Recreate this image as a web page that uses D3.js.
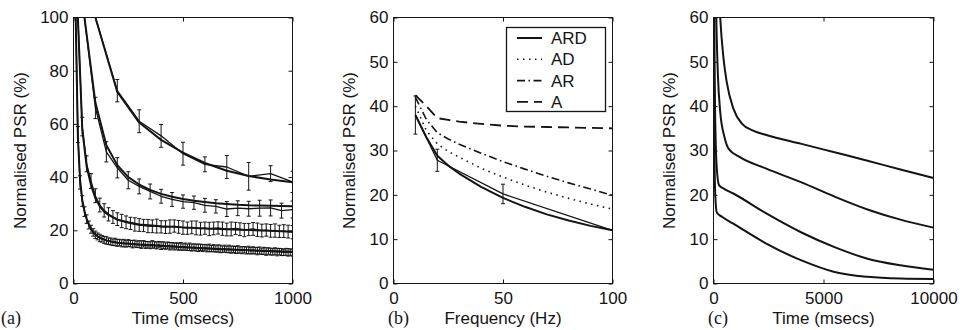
<!DOCTYPE html>
<html>
<head>
<meta charset="utf-8">
<script src="https://cdn.jsdelivr.net/npm/d3@7"></script>
<style>
  body { margin: 0; background: #fff; }
</style>
</head>
<body>
<script>
// ---------- panel (a): normalised PSR vs time, 4 stimulus trains ----------
// stimulus times (regular trains at 10, 20, 50, 100 Hz)
const tA10 = d3.range(100, 1001, 100);
const tA20 = d3.range(50, 1001, 50);
const tA50 = d3.range(20, 1001, 20);
const tA100 = d3.range(10, 1001, 10);

const data10 = [100, 72.5, 61, 55.5, 48.8, 44.8, 43.8, 40.3, 41.3, 38.2];
const err10 = [0, 4.2, 4.3, 4.3, 4.3, 2.8, 4.3, 5.2, 3.0, 4.0];
const model10 = [100, 72, 60.5, 54, 49.2, 45.3, 42.4, 40.4, 39.1, 38.1];

const data20 = [100, 66, 49.5, 43.5, 38.8, 36.5, 34.6, 32.8, 31.6, 30.8,
                30.4, 29.4, 29.0, 28.0, 28.3, 28.1, 28.3, 28.4, 27.4, 27.8];
const err20 = [0, 4, 3.8, 3.8, 3.2, 2.8, 2.8, 2.6, 2.6, 2.5,
               2.5, 2.6, 2.5, 2.8, 2.8, 2.8, 3.0, 3.0, 2.8, 3.2];
const model20 = [100, 68, 52, 44.5, 40, 37.2, 35.2, 33.7, 32.6, 31.8,
                 31.1, 30.6, 30.2, 29.9, 29.6, 29.4, 29.3, 29.2, 29.1, 29.0];

const data50 = [100, 59, 45, 38.5, 33, 29.5, 27.5, 26, 25, 24.2,
                23.5, 23, 22.6, 22.2, 22, 21.8, 21.6, 21.5, 21.6, 21.3,
                21.2, 21.4, 21.6, 21.3, 21, 20.8, 21.1, 20.9, 20.6, 20.8,
                20.5, 20.7, 20.9, 20.6, 20.3, 20.5, 20.7, 20.4, 20.1, 20.3,
                20.5, 20.2, 19.9, 20.1, 19.8, 19.9, 19.6, 19.7, 19.5, 19.3];
const err50 = [0, 3.5, 3, 2.8, 2.6, 2.6, 2.5, 2.5, 2.4, 2.4,
               2.5, 2.4, 2.3, 2.5, 2.4, 2.3, 2.5, 2.4, 2.6, 2.3,
               2.4, 2.5, 2.3, 2.4, 2.5, 2.3, 2.4, 2.6, 2.4, 2.3,
               2.5, 2.4, 2.3, 2.5, 2.4, 2.6, 2.3, 2.4, 2.5, 2.3,
               2.4, 2.5, 2.4, 2.3, 2.4, 2.5, 2.3, 2.4, 2.4, 2.5];
const model50T = [20, 40, 60, 80, 100, 120, 140, 160, 200, 250, 300, 400, 500, 600, 700, 800, 900, 1000];
const model50 = [100, 58, 44, 37, 32, 29, 27, 25.8, 24, 23, 22.2, 21.5, 21.1, 20.7, 20.4, 20.1, 19.8, 19.5];

const data100 = [100, 56, 38, 31, 27, 24.2, 22, 20.4, 19.2, 18.3,
                 17.7, 17.1, 16.8, 16.4, 16.2, 15.9, 15.8, 15.5, 15.6, 15.3,
                 15.4, 15.1, 15.2, 14.9, 15.2, 15.0, 14.8, 15.0, 14.7, 14.8,
                 14.6, 14.9, 14.5, 14.6, 14.4, 14.7, 14.5, 14.3, 14.6, 14.2,
                 14.4, 14.1, 14.3, 14.0, 14.2, 13.9, 14.1, 13.8, 14.0, 13.7,
                 13.9, 13.6, 13.8, 13.5, 13.7, 13.5, 13.4, 13.6, 13.3, 13.5,
                 13.2, 13.4, 13.1, 13.3, 13.0, 13.2, 13.0, 12.9, 13.1, 12.8,
                 13.0, 12.7, 12.9, 12.6, 12.8, 12.6, 12.5, 12.7, 12.4, 12.6,
                 12.3, 12.5, 12.3, 12.2, 12.4, 12.1, 12.3, 12.0, 12.2, 12.0,
                 11.9, 12.1, 11.8, 12.0, 11.8, 11.7, 11.9, 11.7, 11.8, 11.6];
const err100 = [0, 3, 2.5, 2, 1.8, 1.6, 1.5, 1.5, 1.4, 1.4,
                1.3, 1.4, 1.2, 1.3, 1.4, 1.2, 1.3, 1.2, 1.4, 1.3,
                1.2, 1.3, 1.4, 1.2, 1.3, 1.2, 1.4, 1.3, 1.2, 1.3,
                1.4, 1.2, 1.3, 1.2, 1.3, 1.4, 1.2, 1.3, 1.2, 1.4,
                1.3, 1.2, 1.3, 1.4, 1.2, 1.3, 1.2, 1.3, 1.4, 1.2,
                1.3, 1.2, 1.4, 1.3, 1.2, 1.3, 1.4, 1.2, 1.3, 1.2,
                1.3, 1.4, 1.2, 1.3, 1.2, 1.3, 1.4, 1.2, 1.3, 1.2,
                1.4, 1.3, 1.2, 1.3, 1.4, 1.2, 1.3, 1.2, 1.3, 1.4,
                1.2, 1.3, 1.2, 1.4, 1.3, 1.2, 1.3, 1.4, 1.2, 1.3,
                1.2, 1.3, 1.4, 1.2, 1.3, 1.2, 1.3, 1.4, 1.2, 1.3];
const model100T = [10, 20, 30, 40, 50, 60, 70, 80, 90, 100, 120, 150, 200, 300, 400, 500, 600, 700, 800, 900, 1000];
const model100 = [100, 55, 39, 31.5, 27.2, 24.3, 22.2, 20.6, 19.3, 18.4, 17.2, 16.2, 15.3, 14.6, 14.1, 13.6, 13.2, 12.8, 12.5, 12.2, 11.9];

// ---------- panel (b): steady state vs frequency ----------
const freqData = [10, 20, 50, 100];
const ardData = [38, 27.8, 20.2, 12];
const ardErr = [4.3, 2.5, 2.2, 0];
const freqModel = [10, 15, 20, 25, 30, 40, 50, 60, 70, 80, 90, 100];
const ardModel = [38, 33, 28.8, 26.6, 24.8, 21.8, 19.3, 17.3, 15.6, 14.2, 13, 12];
const adModel = [40, 34.5, 31.5, 29.8, 28.5, 26, 24, 22.2, 20.6, 19.2, 17.9, 16.8];
const arModel = [42, 37, 34, 32.6, 31.4, 29.4, 27.5, 25.8, 24.2, 22.7, 21.3, 19.9];
const aModel = [42.5, 40, 37.3, 36.9, 36.5, 36, 35.6, 35.4, 35.3, 35.2, 35.1, 35];
const legendNames = ["ARD", "AD", "AR", "A"];

// ---------- panel (c): long trains, model only ----------
const cT10 = [100, 200, 300, 450, 600, 900, 1300, 1800, 2400, 4000, 5500, 7000, 8500, 10000];
const cV10 = [100, 72, 60.5, 51, 45.5, 39.5, 36, 34.5, 33.5, 31.5, 29.6, 27.7, 25.7, 23.8];
const cT20 = [50, 100, 150, 200, 300, 500, 700, 1200, 2400, 4000, 5500, 7000, 8500, 10000];
const cV20 = [100, 68, 55, 47, 39, 33, 30.3, 28.5, 25.9, 22.8, 19.6, 16.7, 14.4, 12.6];
const cT50 = [20, 40, 60, 100, 150, 250, 500, 900, 2400, 4000, 5500, 7000, 8500, 10000];
const cV50 = [100, 58, 44, 32, 26, 22.2, 21.3, 20.3, 15.8, 11.5, 8.2, 5.6, 4.1, 3.1];
const cT100 = [10, 20, 40, 80, 150, 400, 900, 2400, 4000, 5500, 7000, 8500, 10000];
const cV100 = [100, 55, 31, 20, 16, 15, 13.5, 9, 5.2, 2.6, 1.5, 1.1, 1.0];

const ink = "#141414";
const font = "'Liberation Sans', Arial, sans-serif";
const plotTop = 17.5, plotBottom = 283.5;

const svg = d3.select("body").append("svg").attr("width", 960).attr("height", 330);

const makePanel = function(o) {
  const x = d3.scaleLinear().domain(o.xDomain).range([o.left, o.right]);
  const y = d3.scaleLinear().domain(o.yDomain).range([plotBottom, plotTop]);
  const g = svg.append("g");

  svg.append("clipPath").attr("id", "clip-" + o.name)
    .append("rect")
      .attr("x", o.left).attr("y", plotTop)
      .attr("width", o.right - o.left).attr("height", plotBottom - plotTop);
  const plot = g.append("g").attr("clip-path", "url(#clip-" + o.name + ")");

  const fmt = d3.format("d");
  const styleAxis = (sel) => {
    sel.select(".domain").remove();
    sel.attr("font-size", 17).attr("font-family", font);
    sel.selectAll("line").attr("stroke", ink);
    sel.selectAll("text").attr("fill", ink);
  };
  g.append("g").attr("transform", "translate(0," + plotBottom + ")")
    .call(d3.axisBottom(x).tickValues(o.xTicks).tickFormat(fmt).tickSizeInner(-4).tickSizeOuter(0).tickPadding(8))
    .call(styleAxis);
  g.append("g").attr("transform", "translate(0," + plotTop + ")")
    .call(d3.axisTop(x).tickValues(o.xTicks).tickFormat("").tickSizeInner(-4).tickSizeOuter(0))
    .call(styleAxis);
  g.append("g").attr("transform", "translate(" + o.left + ",0)")
    .call(d3.axisLeft(y).tickValues(o.yTicks).tickFormat(fmt).tickSizeInner(-4).tickSizeOuter(0).tickPadding(5))
    .call(styleAxis);
  g.append("g").attr("transform", "translate(" + o.right + ",0)")
    .call(d3.axisRight(y).tickValues(o.yTicks).tickFormat("").tickSizeInner(-4).tickSizeOuter(0))
    .call(styleAxis);

  g.append("rect")
    .attr("x", o.left).attr("y", plotTop)
    .attr("width", o.right - o.left).attr("height", plotBottom - plotTop)
    .attr("fill", "none").attr("stroke", ink).attr("stroke-width", 1);

  g.append("text")
    .attr("x", (o.left + o.right) / 2).attr("y", 324)
    .attr("text-anchor", "middle")
    .attr("font-family", font).attr("font-size", 17).attr("fill", ink)
    .text(o.xLabel);
  g.append("text")
    .attr("transform", "translate(" + o.yLabelX + "," + ((plotTop + plotBottom) / 2) + ") rotate(-90)")
    .attr("text-anchor", "middle")
    .attr("font-family", font).attr("font-size", 17).attr("fill", ink)
    .text("Normalised PSR (%)");
  g.append("text")
    .attr("x", o.tagX).attr("y", 324)
    .attr("font-family", "'Liberation Serif', 'Times New Roman', serif").attr("font-size", 18).attr("fill", ink)
    .text(o.tag);

  return { x: x, y: y, plot: plot, g: g };
};

const drawLine = function(p, ts, vs, width, dash, curve) {
  const line = d3.line().x((d) => p.x(d[0])).y((d) => p.y(d[1])).curve(curve || d3.curveLinear);
  return p.plot.append("path")
    .datum(ts.map((t, i) => [t, vs[i]]))
    .attr("d", line)
    .attr("fill", "none")
    .attr("stroke", ink)
    .attr("stroke-width", width)
    .attr("stroke-linejoin", "round")
    .attr("stroke-dasharray", dash || null);
};

const drawErrors = function(p, ts, vs, es) {
  const pts = ts.map((t, i) => ({ t: t, v: vs[i], e: es[i] })).filter((d) => d.e > 0);
  p.plot.append("g").selectAll("path")
    .data(pts)
    .enter()
  .append("path")
    .attr("d", (d) => {
      const cx = p.x(d.t), y0 = p.y(d.v - d.e), y1 = p.y(d.v + d.e);
      return "M" + cx + "," + y0 + "V" + y1 +
             "M" + (cx - 2) + "," + y0 + "H" + (cx + 2) +
             "M" + (cx - 2) + "," + y1 + "H" + (cx + 2);
    })
    .attr("fill", "none")
    .attr("stroke", ink)
    .attr("stroke-width", 1);
};

// ----- (a)
const pa = makePanel({
  name: "a", left: 73.5, right: 292.5,
  xDomain: [0, 1000], yDomain: [0, 100],
  xTicks: [0, 500, 1000], yTicks: [0, 20, 40, 60, 80, 100],
  xLabel: "Time (msecs)", yLabelX: 26, tag: "(a)", tagX: 1
});
drawErrors(pa, tA100, data100, err100);
drawErrors(pa, tA50, data50, err50);
drawErrors(pa, tA20, data20, err20);
drawErrors(pa, tA10, data10, err10);
drawLine(pa, tA100, data100, 1.3);
drawLine(pa, tA50, data50, 1.3);
drawLine(pa, tA20, data20, 1.3);
drawLine(pa, tA10, data10, 1.3);
drawLine(pa, model100T, model100, 2);
drawLine(pa, model50T, model50, 2);
drawLine(pa, tA20, model20, 2);
drawLine(pa, tA10, model10, 2);

// ----- (b)
const pb = makePanel({
  name: "b", left: 393.5, right: 612.5,
  xDomain: [0, 100], yDomain: [0, 60],
  xTicks: [0, 50, 100], yTicks: [0, 10, 20, 30, 40, 50, 60],
  xLabel: "Frequency (Hz)", yLabelX: 355, tag: "(b)", tagX: 388
});
const styles = [
  { vals: ardModel, dash: null, width: 2 },
  { vals: adModel, dash: "1.5,4.5", width: 1.6 },
  { vals: arModel, dash: "8,3.5,1.5,3.5", width: 1.6 },
  { vals: aModel, dash: "11,6", width: 1.8 }
];
styles.forEach((s) => { drawLine(pb, freqModel, s.vals, s.width, s.dash); });
drawLine(pb, freqData, ardData, 1.3);
drawErrors(pb, freqData, ardData, ardErr);

// legend
const lg = pb.g.append("g");
lg.append("rect")
  .attr("x", 506.5).attr("y", 27.5).attr("width", 99).attr("height", 84)
  .attr("fill", "#fff").attr("stroke", ink).attr("stroke-width", 1.3);
legendNames.forEach((name, i) => {
  const yy = 38 + i * 21.3;
  lg.append("line")
    .attr("x1", 517).attr("x2", 542).attr("y1", yy).attr("y2", yy)
    .attr("stroke", ink).attr("stroke-width", styles[i].width)
    .attr("stroke-dasharray", styles[i].dash);
  lg.append("text")
    .attr("x", 551).attr("y", yy).attr("dy", "0.36em")
    .attr("font-family", font).attr("font-size", 17).attr("fill", ink)
    .text(name);
});

// ----- (c)
const pc = makePanel({
  name: "c", left: 713.5, right: 933.5,
  xDomain: [0, 10000], yDomain: [0, 60],
  xTicks: [0, 5000, 10000], yTicks: [0, 10, 20, 30, 40, 50, 60],
  xLabel: "Time (msecs)", yLabelX: 675, tag: "(c)", tagX: 708
});
[[cT10, cV10], [cT20, cV20], [cT50, cV50], [cT100, cV100]].forEach((c) => {
  drawLine(pc, c[0], c[1], 2, null, d3.curveMonotoneX);
});
</script>
</body>
</html>
